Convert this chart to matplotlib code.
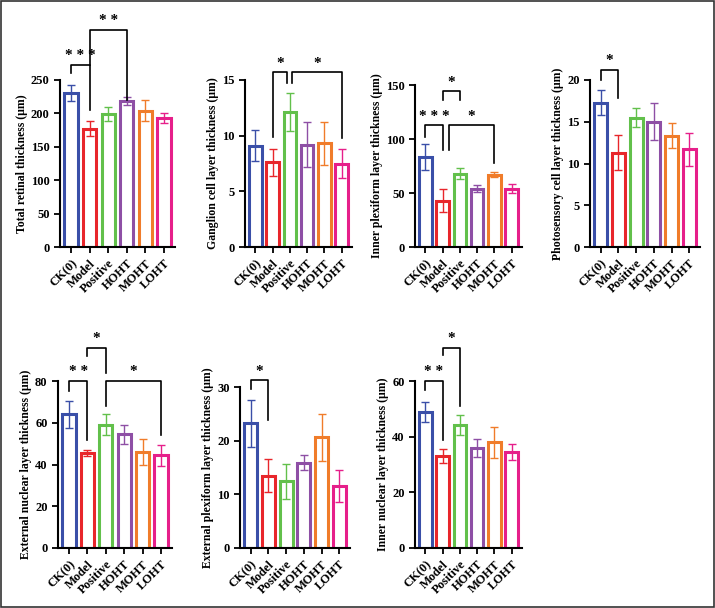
import matplotlib
matplotlib.use("Agg")
from matplotlib import pyplot as plt
from matplotlib.patches import Rectangle

plt.rcParams["font.family"] = ["Liberation Serif", "DejaVu Serif"]
plt.rcParams["font.weight"] = "bold"

GROUPS = ["CK(0)", "Model", "Positive", "HOHT", "MOHT", "LOHT"]
COLORS = ["#3a4fa8", "#e8262b", "#62c04b", "#8e4fa5", "#f07c2a", "#e61f8a"]

total_mean = [231, 177, 199, 218, 204, 193]
total_err = [12, 11, 10, 6, 16, 8]
gang_mean = [9.1, 7.6, 12.1, 9.2, 9.3, 7.5]
gang_err = [1.4, 1.2, 1.7, 2.0, 1.9, 1.3]
ipl_mean = [83, 43, 68, 54, 67, 54]
ipl_err = [12, 11, 5, 3, 2, 4]
photo_mean = [17.3, 11.3, 15.5, 15.0, 13.3, 11.7]
photo_err = [1.5, 2.1, 1.1, 2.2, 1.5, 2.0]
enl_mean = [64, 45.5, 59, 54.5, 46, 44.5]
enl_err = [6.5, 1.5, 5, 4.5, 6, 5]
epl_mean = [23.2, 13.5, 12.4, 15.9, 20.6, 11.6]
epl_err = [4.3, 3.0, 3.2, 1.4, 4.3, 3.0]
inl_mean = [48.8, 33, 44.2, 36, 38, 34.5]
inl_err = [3.5, 2.5, 3.5, 3.3, 5.5, 3.0]

# brackets: (i, j, y_top, y_end_i, y_end_j, label)
panels = [
    ("Total retinal thickness (μm)", total_mean, total_err, 250, 50,
     [(0, 1, 273, 261, 205, "* * *"), (1, 3, 325, 273, 220, "* *")],
     (60, 80, 115, 167)),
    ("Ganglion cell layer thickness (μm)", gang_mean, gang_err, 15, 5,
     [(1, 1.85, 15.7, 9.9, 14.7, "*"), (2.15, 5, 15.7, 14.7, 9.8, "*")],
     (245, 80, 107, 167)),
    ("Inner plexiform layer thickness (μm)", ipl_mean, ipl_err, 150, 50,
     [(0, 1, 113, 102, 90, "* * *"), (1, 2, 144.5, 136, 136, "*"),
      (1.35, 4, 113, 90, 78, "*")],
     (415, 85, 107, 162)),
    ("Photosensory cell layer thickness (μm)", photo_mean, photo_err, 20, 5,
     [(0, 1, 21.2, 20, 17.8, "*")],
     (590, 80, 110, 167)),
    ("External nuclear layer thickness (μm)", enl_mean, enl_err, 80, 20,
     [(0, 1, 80, 75, 51.7, "* *"), (1, 2, 96, 92, 84, "*"),
      (2, 5, 80, 68, 54, "*")],
     (58, 381, 114, 167)),
    ("External plexiform layer thickness (μm)", epl_mean, epl_err, 30, 10,
     [(0, 1, 31.3, 29.6, 23.8, "*")],
     (240, 387, 110, 161)),
    ("Inner nuclear layer thickness (μm)", inl_mean, inl_err, 60, 20,
     [(0, 1, 60, 56.8, 38.8, "* *"), (1, 2, 72, 69.5, 51, "*")],
     (415, 381, 107, 167)),
]

W, H = 715, 608
fig = plt.figure(figsize=(W / 100, H / 100), dpi=100)
fig.patch.set_facecolor("white")
fig.patches.append(Rectangle((0.002, 0.002), 0.996, 0.996, transform=fig.transFigure,
                             fill=False, edgecolor="#333333", linewidth=1.2))

for label, mean, err, top, step, brackets, (l, t, w, h) in panels:
    ax = fig.add_axes([l / W, (H - t - h) / H, w / W, h / H])
    x = range(len(GROUPS))
    ax.bar(x, mean, width=0.72, facecolor="white", edgecolor=COLORS, linewidth=2.2)
    for xi, m, e, c in zip(x, mean, err, COLORS):
        ax.errorbar(xi, m, yerr=e, color=c, capsize=3, elinewidth=1, capthick=1)
    ax.set_ylim(0, top)
    ax.set_xlim(-0.6, 5.6)
    ax.set_yticks(range(0, top + 1, step))
    ax.spines[["top", "right"]].set_visible(False)
    ax.spines["left"].set_linewidth(1.5)
    ax.spines["bottom"].set_linewidth(1.5)
    ax.tick_params(width=1.3, length=4, labelsize=9)
    ax.set_xticks(list(x))
    ax.set_xticklabels(GROUPS, rotation=45, ha="right", rotation_mode="anchor",
                       fontweight="bold", fontsize=9)
    ax.set_ylabel(label, fontsize=8.5, fontweight="bold", labelpad=2)
    for i, j, y, yi, yj, txt in brackets:
        ax.plot([i, i, j, j], [yi, y, y, yj], color="black", lw=1.2, clip_on=False)
        ax.text((i + j) / 2, y + top * 0.015, txt, ha="center", va="bottom",
                fontsize=11, fontweight="bold", clip_on=False)

fig.savefig("out.png", dpi=100, facecolor="white")
